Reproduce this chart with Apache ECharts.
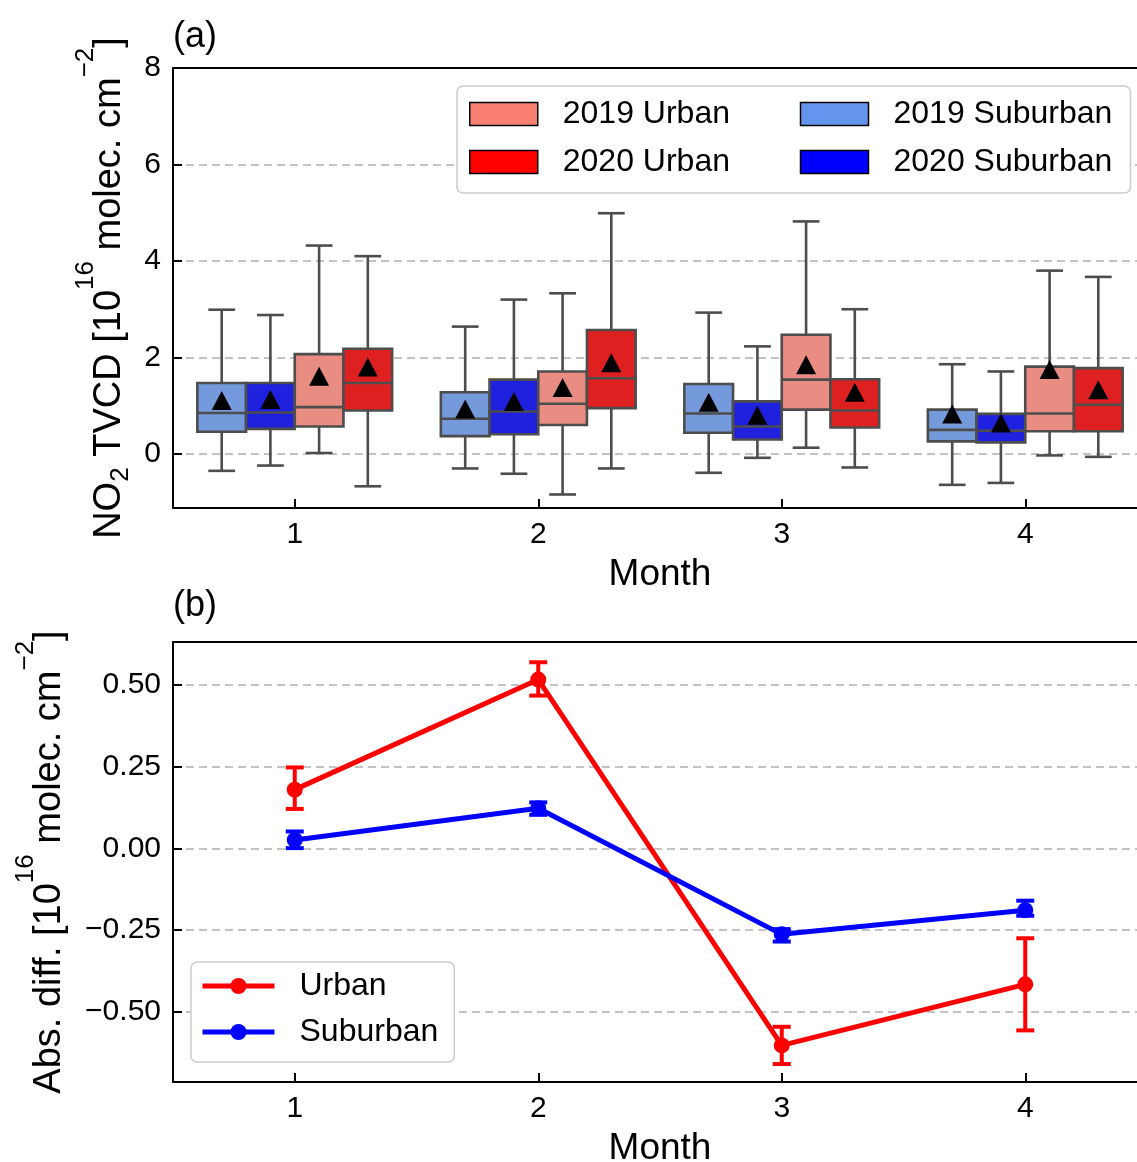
<!DOCTYPE html>
<html>
<head>
<meta charset="utf-8">
<script src="https://cdn.jsdelivr.net/npm/echarts@6/dist/echarts.min.js"></script>
<style>
  html, body { margin: 0; padding: 0; background: #fff; }
  #chart { width: 1137px; height: 1162px; }
</style>
</head>
<body>
<div id="chart"></div>
<script>
const FONT = 'Liberation Sans, Arial, sans-serif';

// months on the x axis
const months = [1, 2, 3, 4];

// box stats per month: [low whisker, Q1, median, Q3, high whisker]
const sub2019 = [[-0.35, 0.46, 0.85, 1.47, 2.99], [-0.30, 0.37, 0.73, 1.28, 2.64], [-0.39, 0.44, 0.84, 1.45, 2.93], [-0.64, 0.26, 0.50, 0.92, 1.86]];
const sub2020 = [[-0.24, 0.52, 0.86, 1.47, 2.88], [-0.41, 0.41, 0.88, 1.54, 3.20], [-0.08, 0.30, 0.57, 1.09, 2.23], [-0.60, 0.24, 0.48, 0.83, 1.71]];
const urb2019 = [[0.02, 0.57, 0.97, 2.07, 4.32], [-0.84, 0.60, 1.04, 1.71, 3.33], [0.13, 0.92, 1.54, 2.47, 4.82], [-0.03, 0.47, 0.84, 1.81, 3.80]];
const urb2020 = [[-0.67, 0.90, 1.47, 2.18, 4.10], [-0.30, 0.95, 1.57, 2.57, 4.99], [-0.28, 0.55, 0.90, 1.55, 3.00], [-0.06, 0.47, 1.02, 1.78, 3.67]];

// means (black triangles)
const sub2019Mean = [1.11, 0.93, 1.07, 0.83];
const sub2020Mean = [1.13, 1.09, 0.80, 0.64];
const urb2019Mean = [1.61, 1.38, 1.85, 1.75];
const urb2020Mean = [1.80, 1.89, 1.28, 1.33];

// panel (b): absolute difference and error bar ends
const urbanDiff = [0.180, 0.517, -0.603, -0.416];
const urbanLow = [0.121, 0.468, -0.660, -0.557];
const urbanHigh = [0.248, 0.570, -0.546, -0.275];
const suburbanDiff = [0.026, 0.123, -0.263, -0.189];
const suburbanLow = [0.001, 0.103, -0.285, -0.206];
const suburbanHigh = [0.052, 0.141, -0.247, -0.160];

// y tick step for each panel
const topStep = 2;
const bottomStep = 0.25;

let groups = [
    { name: '2019 Suburban', stats: sub2019, mean: sub2019Mean, off: -0.3, fill: '#759adc', key: '#6495ed' },
    { name: '2020 Suburban', stats: sub2020, mean: sub2020Mean, off: -0.1, fill: '#2020df', key: '#0000ff' },
    { name: '2019 Urban', stats: urb2019, mean: urb2019Mean, off: 0.1, fill: '#e98d83', key: '#fa8072' },
    { name: '2020 Urban', stats: urb2020, mean: urb2020Mean, off: 0.3, fill: '#df2020', key: '#ff0000' }
];

const EDGE = '#4d4d4d';

// box + whiskers drawn from the axis scales
function renderBox(params, api) {
    let x = api.value(0);
    let half = api.size([0.1, 0])[0];
    let capHalf = api.size([0.055, 0])[0];
    let pLow = api.coord([x, api.value(1)]);
    let pQ1 = api.coord([x, api.value(2)]);
    let pMed = api.coord([x, api.value(3)]);
    let pQ3 = api.coord([x, api.value(4)]);
    let pHigh = api.coord([x, api.value(5)]);
    let cx = pLow[0];
    let st = { stroke: EDGE, lineWidth: 2.6 };
    return {
        type: 'group',
        children: [
            { type: 'line', shape: { x1: cx, y1: pQ1[1], x2: cx, y2: pLow[1] }, style: st },
            { type: 'line', shape: { x1: cx, y1: pQ3[1], x2: cx, y2: pHigh[1] }, style: st },
            { type: 'line', shape: { x1: cx - capHalf, y1: pLow[1], x2: cx + capHalf, y2: pLow[1] }, style: st },
            { type: 'line', shape: { x1: cx - capHalf, y1: pHigh[1], x2: cx + capHalf, y2: pHigh[1] }, style: st },
            {
                type: 'rect',
                shape: { x: cx - half, y: pQ3[1], width: half * 2, height: pQ1[1] - pQ3[1] },
                style: { fill: api.visual('color'), stroke: EDGE, lineWidth: 2.6 }
            },
            { type: 'line', shape: { x1: cx - half, y1: pMed[1], x2: cx + half, y2: pMed[1] }, style: st }
        ]
    };
}

// vertical error bar with caps
function renderErr(params, api) {
    let x = api.value(0);
    let pLow = api.coord([x, api.value(1)]);
    let pHigh = api.coord([x, api.value(2)]);
    let c = api.visual('color');
    let st = { stroke: c, lineWidth: 4 };
    let cx = pLow[0];
    return {
        type: 'group',
        children: [
            { type: 'line', shape: { x1: cx, y1: pLow[1], x2: cx, y2: pHigh[1] }, style: st },
            { type: 'line', shape: { x1: cx - 9, y1: pLow[1], x2: cx + 9, y2: pLow[1] }, style: st },
            { type: 'line', shape: { x1: cx - 9, y1: pHigh[1], x2: cx + 9, y2: pHigh[1] }, style: st }
        ]
    };
}

let series = [];
groups.forEach(function (g) {
    series.push({
        name: g.name,
        type: 'custom',
        xAxisIndex: 0,
        yAxisIndex: 0,
        renderItem: renderBox,
        itemStyle: { color: g.fill },
        encode: { x: 0, y: [1, 2, 3, 4, 5] },
        data: months.map(function (m, i) { return [m + g.off].concat(g.stats[i]); }),
        z: 2
    });
});
groups.forEach(function (g) {
    series.push({
        name: g.name + ' mean',
        type: 'scatter',
        xAxisIndex: 0,
        yAxisIndex: 0,
        symbol: 'triangle',
        symbolSize: [20, 19],
        itemStyle: { color: '#000', opacity: 1 },
        data: months.map(function (m, i) { return [m + g.off, g.mean[i]]; }),
        z: 5
    });
});

function lineSeries(name, color, vals, low, high) {
    series.push({
        name: name + ' err',
        type: 'custom',
        xAxisIndex: 1,
        yAxisIndex: 1,
        renderItem: renderErr,
        itemStyle: { color: color },
        encode: { x: 0, y: [1, 2] },
        data: months.map(function (m, i) { return [m, low[i], high[i]]; }),
        z: 3
    });
    series.push({
        name: name,
        type: 'line',
        xAxisIndex: 1,
        yAxisIndex: 1,
        symbol: 'circle',
        symbolSize: 16,
        showSymbol: true,
        itemStyle: { color: color, opacity: 1 },
        lineStyle: { color: color, width: 5 },
        data: months.map(function (m, i) { return [m, vals[i]]; }),
        z: 4
    });
}
lineSeries('Urban', '#ff0000', urbanDiff, urbanLow, urbanHigh);
lineSeries('Suburban', '#0000ff', suburbanDiff, suburbanLow, suburbanHigh);

let axisLine = { show: true, onZero: false, lineStyle: { color: '#000', width: 2 } };
let axisTick = { show: true, inside: true, length: 9, lineStyle: { color: '#000', width: 2 } };
let gridLine = { show: true, showMinLine: false, showMaxLine: false, lineStyle: { color: '#b0b0b0', width: 1.5, type: [8, 5] } };
let labelFont = { fontSize: 30, color: '#000', fontFamily: FONT };
let nameRich = {
    n: { fontSize: 38, lineHeight: 74, fontFamily: FONT, color: '#000' },
    sup: { fontSize: 26, lineHeight: 26, verticalAlign: 'top', fontFamily: FONT, color: '#000' },
    sub: { fontSize: 26, lineHeight: 26, verticalAlign: 'top', padding: [35, 0, 0, 0], fontFamily: FONT, color: '#000' }
};

function monthAxis(gi) {
    return {
        gridIndex: gi,
        type: 'value',
        min: 0.5,
        max: 4.5,
        minInterval: 1,
        maxInterval: 1,
        axisLine: axisLine,
        axisTick: axisTick,
        axisLabel: Object.assign({ margin: 12, showMinLabel: false, showMaxLabel: false }, labelFont),
        splitLine: { show: false },
        name: 'Month',
        nameLocation: 'middle',
        nameGap: 48,
        nameTextStyle: { fontSize: 37, color: '#000', fontFamily: FONT }
    };
}
function topSpine(gi) {
    return {
        gridIndex: gi,
        type: 'value',
        position: 'top',
        min: 0.5,
        max: 4.5,
        axisLine: axisLine,
        axisTick: { show: false },
        axisLabel: { show: false },
        splitLine: { show: false }
    };
}

let option = {
    backgroundColor: '#fff',
    animation: false,
    textStyle: { fontFamily: FONT },
    title: [
        { text: '(a)', left: 173, top: 19, padding: 0, textStyle: { fontSize: 36, fontWeight: 'normal', color: '#000', fontFamily: FONT } },
        { text: '(b)', left: 173, top: 588, padding: 0, textStyle: { fontSize: 36, fontWeight: 'normal', color: '#000', fontFamily: FONT } }
    ],
    grid: [
        { left: 173, right: -10, top: 68, height: 440, containLabel: false, outerBoundsMode: 'none' },
        { left: 173, right: -10, top: 642, height: 440, containLabel: false, outerBoundsMode: 'none' }
    ],
    legend: [
        {
            data: [
                { name: '2019 Urban', itemStyle: { color: '#fa8072', borderColor: '#000', borderWidth: 1.5 } },
                { name: '2019 Suburban', itemStyle: { color: '#6495ed', borderColor: '#000', borderWidth: 1.5 } },
                { name: '2020 Urban', itemStyle: { color: '#ff0000', borderColor: '#000', borderWidth: 1.5 } },
                { name: '2020 Suburban', itemStyle: { color: '#0000ff', borderColor: '#000', borderWidth: 1.5 } }
            ],
            icon: 'rect',
            orient: 'horizontal',
            left: 457,
            top: 86,
            width: 700,
            itemWidth: 68,
            itemHeight: 23,
            itemGap: 14,
            padding: [11, 14, 14, 12],
            backgroundColor: '#fff',
            borderColor: '#cccccc',
            borderWidth: 1.5,
            borderRadius: 6,
            selectedMode: false,
            textStyle: { fontSize: 32, lineHeight: 34, width: 223, padding: [0, 0, 0, 20], color: '#000', fontFamily: FONT }
        },
        {
            data: [
                { name: 'Urban', lineStyle: { width: 5 } },
                { name: 'Suburban', lineStyle: { width: 5 } }
            ],
            orient: 'vertical',
            left: 191,
            top: 962,
            itemWidth: 72,
            itemHeight: 20,
            itemGap: 12,
            padding: [7, 16, 13, 9],
            backgroundColor: '#fff',
            borderColor: '#cccccc',
            borderWidth: 1.5,
            borderRadius: 6,
            selectedMode: false,
            textStyle: { fontSize: 32, lineHeight: 34, padding: [0, 0, 0, 20], color: '#000', fontFamily: FONT }
        }
    ],
    xAxis: [monthAxis(0), monthAxis(1), topSpine(0), topSpine(1)],
    yAxis: [
        {
            gridIndex: 0,
            type: 'value',
            min: -1.12,
            max: 8,
            minInterval: topStep,
            maxInterval: topStep,
            axisLine: axisLine,
            axisTick: axisTick,
            axisLabel: Object.assign({ margin: 12, showMinLabel: false }, labelFont),
            splitLine: gridLine,
            name: '{n|NO}{sub|2}{n| TVCD [10}{sup|16}{n| molec. cm}{sup|\u22122}{n|]}',
            nameLocation: 'middle',
            nameGap: 16,
            nameTextStyle: { rich: nameRich }
        },
        {
            gridIndex: 1,
            type: 'value',
            min: -0.715,
            max: 0.632,
            minInterval: bottomStep,
            maxInterval: bottomStep,
            axisLine: axisLine,
            axisTick: axisTick,
            axisLabel: Object.assign({
                margin: 12,
                showMinLabel: false,
                showMaxLabel: false,
                formatter: function (v) { return v.toFixed(2).replace('-', '\u2212'); }
            }, labelFont),
            splitLine: gridLine,
            name: '{n|Abs. diff. [10}{sup|16}{n| molec. cm}{sup|\u22122}{n|]}',
            nameLocation: 'middle',
            nameGap: 86,
            nameTextStyle: { rich: nameRich }
        }
    ],
    series: series
};

let myChart = echarts.init(document.getElementById('chart'));
myChart.setOption(option);
</script>
</body>
</html>
